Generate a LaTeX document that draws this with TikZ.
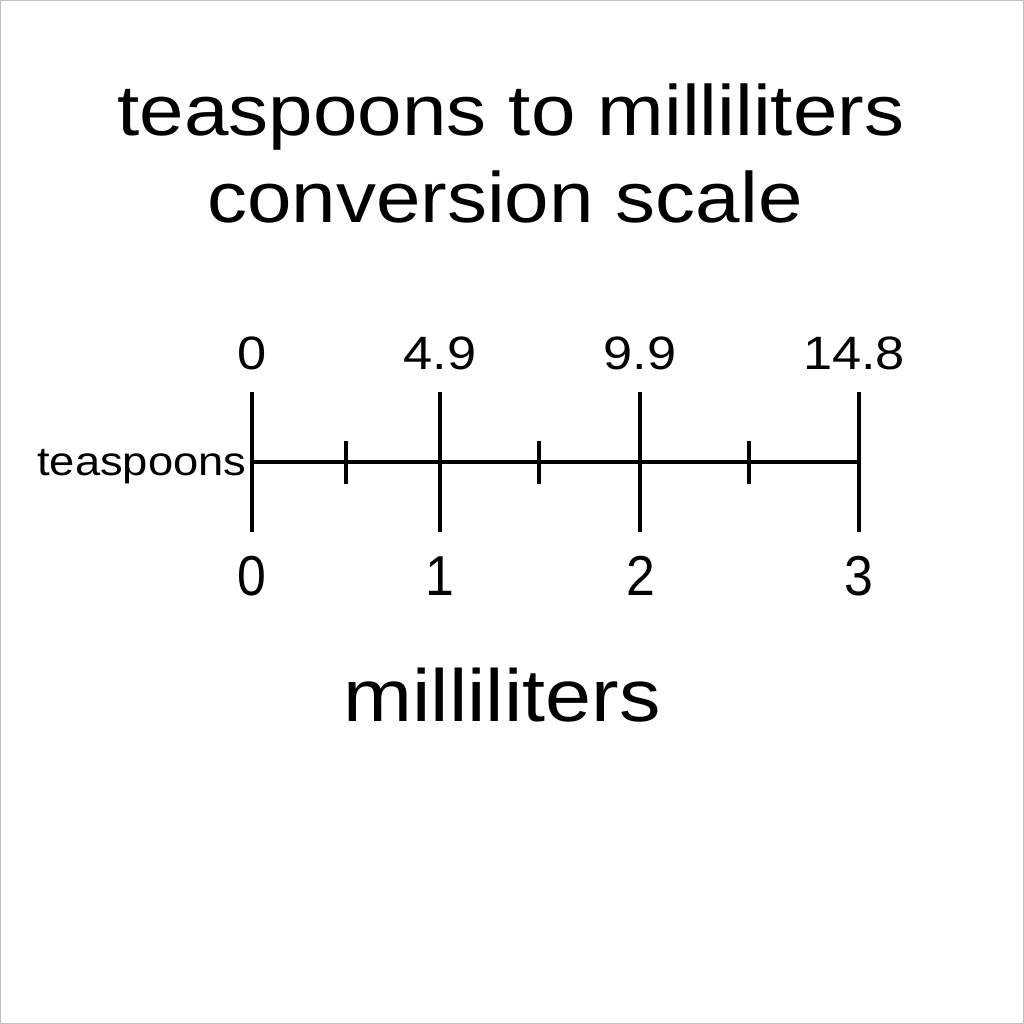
\documentclass[tikz,border=0pt]{standalone}
\usepackage{fontspec}
\setmainfont{Liberation Sans}[FakeStretch=1.12]
\newfontfamily\botfont{Liberation Sans}[FakeStretch=0.92]
\usetikzlibrary{positioning}

\begin{document}
\begin{tikzpicture}[x=0.01cm, y=-0.01cm,
  titletext/.style={anchor=base, inner sep=0pt, font=\fontsize{20.3}{24}\selectfont},
  toplabel/.style={anchor=base, inner sep=0pt, font=\fontsize{13.3}{15}\selectfont},
  botlabel/.style={anchor=base, inner sep=0pt, font=\botfont\fontsize{16}{18}\selectfont},
  majortick/.style={line width=1.1pt},
  minortick/.style={line width=1.0pt},
  axisline/.style={line width=0.9pt}]
\useasboundingbox (0,0) rectangle (1024,1024);
\draw[gray!50, line width=0.5pt] (0.5,0.5) rectangle (1023.5,1023.5);
% Title
\node[titletext] (title1) at (511,135) {teaspoons to milliliters};
\node[titletext] (title2) at (505,222) {conversion scale};
% Axis
\coordinate (axL) at (252,462);
\coordinate (axR) at (859,462);
\draw[axisline] (axL) -- (axR);
\node[anchor=base east, inner sep=0pt, font=\fontsize{11.5}{13}\selectfont]
  (tsp) at (247,475) {teaspoons};
% Major ticks
\draw[majortick] (252,392) -- (252,532);
\draw[majortick] (440,392) -- (440,532);
\draw[majortick] (640,392) -- (640,532);
\draw[majortick] (859,392) -- (859,532);
% Minor ticks
\draw[minortick] (346,441) -- (346,484);
\draw[minortick] (539,441) -- (539,484);
\draw[minortick] (749,441) -- (749,484);
% Top labels
\node[toplabel] (t0) at (252,369) {0};
\node[toplabel] (t1) at (440,369) {4.9};
\node[toplabel] (t2) at (640,369) {9.9};
\node[toplabel] (t3) at (854,369) {14.8};
% Bottom labels
\node[botlabel] (b0) at (252,595) {0};
\node[botlabel] (b1) at (440,595) {1};
\node[botlabel] (b2) at (641,595) {2};
\node[botlabel] (b3) at (859,595) {3};
\node[titletext, font=\fontsize{21}{24}\selectfont] (unit) at (502,721) {milliliters};
\end{tikzpicture}
\end{document}
